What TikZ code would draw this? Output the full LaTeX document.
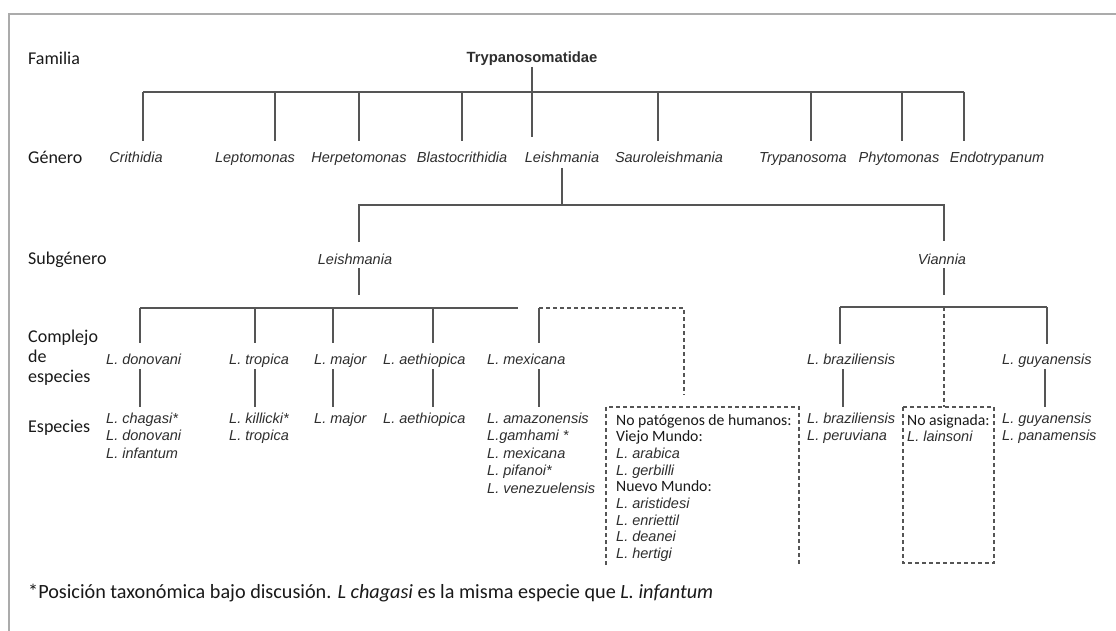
\documentclass[tikz,border=0pt]{standalone}
\usepackage{fontspec}
\setmainfont{Liberation Sans}
\newfontfamily\calibrifont{Carlito}
\definecolor{ln}{HTML}{555555}
\definecolor{txt}{HTML}{2E2E2E}
\definecolor{framegray}{HTML}{ABABAB}
% upright Calibri-like words inside the italic species lists
\newcommand{\cbtext}[1]{{\calibrifont\fontsize{15.7}{16.7}\selectfont\upshape\color{black!90}#1}}
% left-aligned list whose baseline is the first line
\newcommand{\stacked}[1]{\begin{tabular}[t]{@{}l@{}}#1\end{tabular}}

\tikzset{
  rowlabel/.style={font=\calibrifont\fontsize{18}{20}\selectfont, text=black!90,
                   anchor=base west, inner sep=0, align=left},
  taxon/.style={font=\fontsize{14.5}{17.5}\selectfont\itshape, text=txt, inner sep=0},
  genus/.style={taxon, anchor=base},
  spp/.style={taxon, anchor=base west},
  boxtext/.style={font=\fontsize{14.5}{16.7}\selectfont\itshape, text=txt,
                  inner sep=0, anchor=base west},
  branch/.style={draw=ln, line width=1.2pt},
  dashbranch/.style={draw=ln, line width=1.2pt, dash pattern=on 4pt off 3pt},
  framerule/.style={draw=framegray, line width=1.6pt},
}

\begin{document}
\begin{tikzpicture}[x=1pt, y=-1pt]
\useasboundingbox (0,0) rectangle (1116,631);
\fill[white] (0,0) rectangle (1116,631);

% page frame (top and left rules)
\coordinate (frameTL) at (9,14);
\coordinate (frameTR) at (1116,14);
\coordinate (frameBL) at (9,631);
\draw[framerule] (frameTR) -- (frameTL) -- (frameBL);

% rank labels
\node[rowlabel] (rFam) at (28,65) {Familia};
\node[rowlabel] (rGen) at (28,164) {Género};
\node[rowlabel] (rSub) at (28,264) {Subgénero};
\node[rowlabel, anchor=base west] (rCom) at (28,342)
  {\stacked{Complejo\\de\\especies}};
\node[rowlabel] (rEsp) at (28,432) {Especies};

% family
\node[font=\fontsize{14.8}{17}\selectfont\bfseries, text=txt, inner sep=0, anchor=base]
  (fam) at (532,62.7) {Trypanosomatidae};

% genera
\foreach \n/\x/\t in {crit/136/Crithidia, lept/255/Leptomonas, herp/359/Herpetomonas,
    blas/462/Blastocrithidia, leis/562/Leishmania, saur/669/Sauroleishmania,
    tryp/803/Trypanosoma, phyt/899/Phytomonas, endo/997/Endotrypanum}
  \node[genus] (g-\n) at (\x,163) {\t};

% family bar and genus drops
\coordinate (barL) at (143,92);
\coordinate (barR) at (964,92);
\draw[branch] (barL) -- (barR);
\coordinate (famEnd) at (532,137);
\draw[branch] (fam.south) ++(0,1) -- (famEnd);
\foreach \n/\x in {crit/143, lept/275, herp/359, blas/462, saur/658,
    tryp/811, phyt/902, endo/964}{
  \coordinate (top-\n) at (\x,92);
  \coordinate (end-\n) at (\x,141);
  \draw[branch] (top-\n) -- (end-\n);
}

% subgenera
\node[genus] (sLei) at (355,264) {Leishmania};
\node[genus] (sVia) at (942,264) {Viannia};
\coordinate (leisDown) at (562,168);
\coordinate (subBarMid) at (562,205);
\coordinate (subBarL) at (359,205);
\coordinate (subBarR) at (944,205);
\coordinate (sLeiTop) at (359,242);
\coordinate (sViaTop) at (944,241);
\draw[branch] (leisDown) -- (subBarMid);
\draw[branch] (sLeiTop) -- (subBarL) -- (subBarR) -- (sViaTop);
\coordinate (sLeiA) at (359,268);
\coordinate (sLeiB) at (359,295);
\coordinate (sViaA) at (944,268);
\coordinate (sViaB) at (944,295);
\draw[branch] (sLeiA) -- (sLeiB);
\draw[branch] (sViaA) -- (sViaB);

% species complexes
\node[spp] (cDon) at (106,364) {L. donovani};
\node[spp] (cTro) at (229,364) {L. tropica};
\node[spp] (cMaj) at (314,364) {L. major};
\node[spp] (cAet) at (383,364) {L. aethiopica};
\node[spp] (cMex) at (487,364) {L. mexicana};
\node[spp] (cBra) at (807,364) {L. braziliensis};
\node[spp] (cGuy) at (1002,364) {L. guyanensis};

% complex bars
\coordinate (cBarL) at (140,308);
\coordinate (cBarR) at (518,308);
\draw[branch] (cBarL) -- (cBarR);
\foreach \n/\x in {don/140, tro/255, maj/333, aet/433, mex/539}{
  \coordinate (ct-\n) at (\x,308);
  \coordinate (cb-\n) at (\x,343);
  \draw[branch] (ct-\n) -- (cb-\n);
}
\coordinate (vBarL) at (840,307);
\coordinate (vBarR) at (1047,307);
\draw[branch] (vBarL) -- (vBarR);
\foreach \n/\x in {bra/840, guy/1047}{
  \coordinate (vt-\n) at (\x,307);
  \coordinate (vb-\n) at (\x,344);
  \draw[branch] (vt-\n) -- (vb-\n);
}

% complex to species drops
\foreach \n/\x in {don/140, tro/255, maj/333, aet/433, mex/539, bra/843, guy/1045}{
  \coordinate (st-\n) at (\x,369);
  \coordinate (sb-\n) at (\x,407);
  \draw[branch] (st-\n) -- (sb-\n);
}

% species
\node[spp] (pDon) at (106,423) {\stacked{L. chagasi*\\L. donovani\\L. infantum}};
\node[spp] (pTro) at (229,423) {\stacked{L. killicki*\\L. tropica}};
\node[spp] (pMaj) at (314,423) {L. major};
\node[spp] (pAet) at (383,423) {L. aethiopica};
\node[spp] (pMex) at (487,423)
  {\stacked{L. amazonensis\\L.gamhami *\\L. mexicana\\L. pifanoi*\\L. venezuelensis}};
\node[spp] (pBra) at (807,423) {\stacked{L. braziliensis\\L. peruviana}};
\node[spp] (pGuy) at (1002,423) {\stacked{L. guyanensis\\L. panamensis}};

% non-pathogenic species (open dashed box)
\coordinate (npA) at (539,308);
\coordinate (npB) at (684,308);
\coordinate (npC) at (684,395);
\draw[dashbranch] (npA) -- (npB) -- (npC);
\coordinate (np1) at (606,565);
\coordinate (np2) at (606,407);
\coordinate (np3) at (799,407);
\coordinate (np4) at (799,565);
\draw[dashbranch] (np1) -- (np2) -- (np3) -- (np4);
\node[boxtext] (npText) at (616,425)
  {\stacked{\cbtext{No patógenos de humanos:}\\\cbtext{Viejo Mundo:}\\L. arabica\\L. gerbilli\\
   \cbtext{Nuevo Mundo:}\\L. aristidesi\\L. enriettil\\L. deanei\\L. hertigi}};

% unassigned Viannia species
\coordinate (naTop) at (944,307);
\coordinate (naBox) at (944,407);
\draw[dashbranch] (naTop) -- (naBox);
\coordinate (na1) at (903,407);
\coordinate (na2) at (994,563);
\draw[dashbranch] (na1) rectangle (na2);
\node[boxtext] (naText) at (907,425) {\stacked{\cbtext{No asignada:}\\L. lainsoni}};

% footnote
\node[font=\calibrifont\fontsize{20.2}{23}\selectfont, text=black!90, inner sep=0, anchor=base west]
  (note) at (28,598)
  {*Posición taxonómica bajo discusión. \textit{L chagasi} es la misma especie que \textit{L. infantum}};
\end{tikzpicture}
\end{document}
